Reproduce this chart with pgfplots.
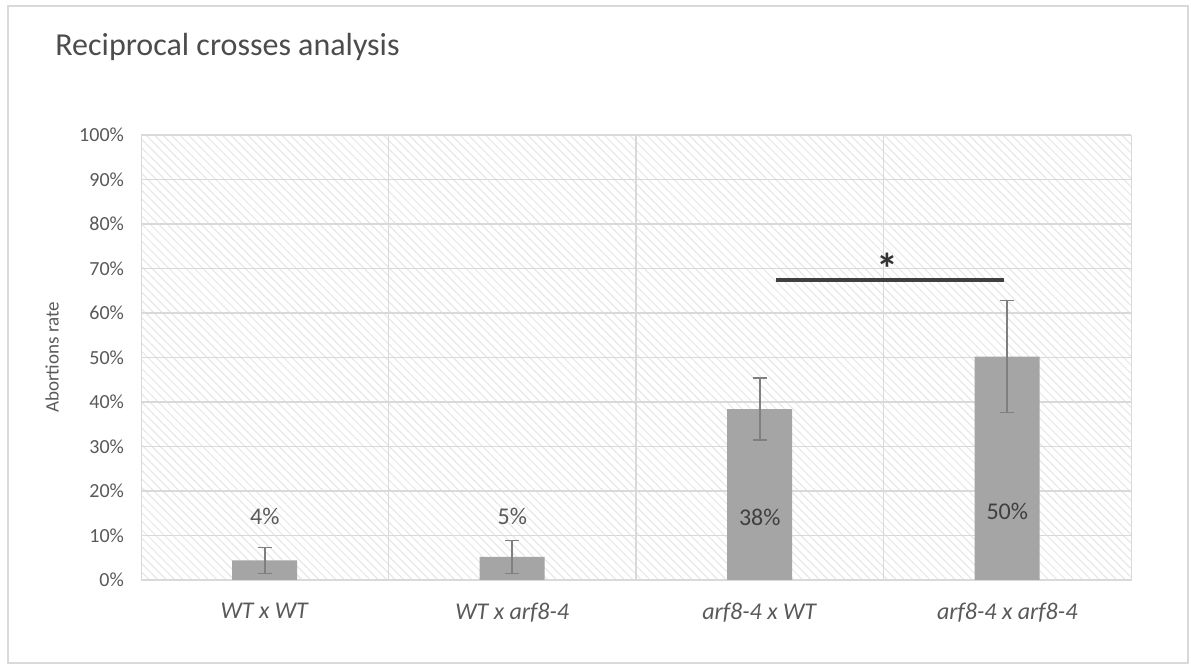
\documentclass[border=0pt]{standalone}
\usepackage{fontspec}
\setmainfont{Carlito}
\usepackage{pgfplots}
\pgfplotsset{compat=1.18}
\usetikzlibrary{patterns.meta}
\definecolor{bargray}{HTML}{A5A5A5}
\definecolor{gridgray}{HTML}{D9D9D9}
\definecolor{txtgray}{HTML}{595959}
\definecolor{errgray}{HTML}{7F7F7F}
\definecolor{hatchgray}{HTML}{E6E6E6}
\begin{document}
\begin{tikzpicture}
\useasboundingbox (-70.5pt,-44pt) rectangle (525pt,290pt);
\draw[color=gridgray,line width=0.8pt] (-66.5pt,287pt) rectangle (523.5pt,-41.5pt);
\node[anchor=west,inner sep=0pt,font=\fontsize{16}{18}\selectfont,text=txtgray!85!black] at (-43pt,266.5pt) {Reciprocal crosses analysis};
\begin{axis}[
  at={(0,0)}, anchor=south west,
  scale only axis, width=495pt, height=222.5pt,
  xmin=-0.5, xmax=3.5, ymin=0, ymax=100,
  axis background/.style={fill=white, postaction={pattern={Lines[angle=-45,distance=3pt,line width=0.5pt]}, pattern color=hatchgray}},
  axis line style={gridgray},
  xtick={0,1,2,3},
  xticklabels={\textit{WT x WT},\textit{WT x arf8-4},\textit{arf8-4 x WT},\textit{arf8-4 x arf8-4}},
  minor xtick={0.5,1.5,2.5},
  xminorgrids=true,
  ytick={0,10,...,100},
  yticklabel={\pgfmathprintnumber{\tick}\%},
  ymajorgrids=true,
  grid style={gridgray, line width=0.6pt},
  minor grid style={gridgray, line width=0.6pt},
  major tick length=0pt, minor tick length=0pt,
  tick label style={text=txtgray},
  yticklabel style={font=\fontsize{10}{12}\selectfont, xshift=-5pt},
  xticklabel style={font=\fontsize{12}{14}\selectfont, yshift=-8pt},
  /pgf/number format/assume math mode=true,
  ylabel={Abortions rate},
  every axis y label/.style={at={(axis description cs:-0.0899,0.5)}, rotate=90, anchor=center, font=\fontsize{9.5}{11}\selectfont, text=txtgray},
]
\addplot[ybar, bar width=32.5pt, bar shift=0pt, fill=bargray, draw=none,
  error bars/.cd, y dir=both, y explicit,
  error bar style={errgray, line width=0.8pt},
  error mark options={rotate=90, mark size=3.5pt, errgray, line width=0.8pt}]
  coordinates {
  (0,4.4) +- (0,2.9)
  (1,5.2) +- (0,3.7)
  (2,38.4) +- (0,7.0)
  (3,50.2) +- (0,12.6)
  };
\addplot[color=black!75, line width=1.6pt] coordinates {(2.064,67.4) (2.986,67.4)};
\node[font=\bfseries\fontsize{22}{22}\selectfont, text=black!80] at (axis cs:2.517,70.0) {*};
\node[font=\fontsize{12}{14}\selectfont, text=txtgray] at (axis cs:0,14.2) {4\%};
\node[font=\fontsize{12}{14}\selectfont, text=txtgray] at (axis cs:1,14.2) {5\%};
\node[font=\fontsize{12}{14}\selectfont, text=black!75] at (axis cs:2,14.0) {38\%};
\node[font=\fontsize{12}{14}\selectfont, text=black!75] at (axis cs:3,15.3) {50\%};
\end{axis}
\end{tikzpicture}
\end{document}
